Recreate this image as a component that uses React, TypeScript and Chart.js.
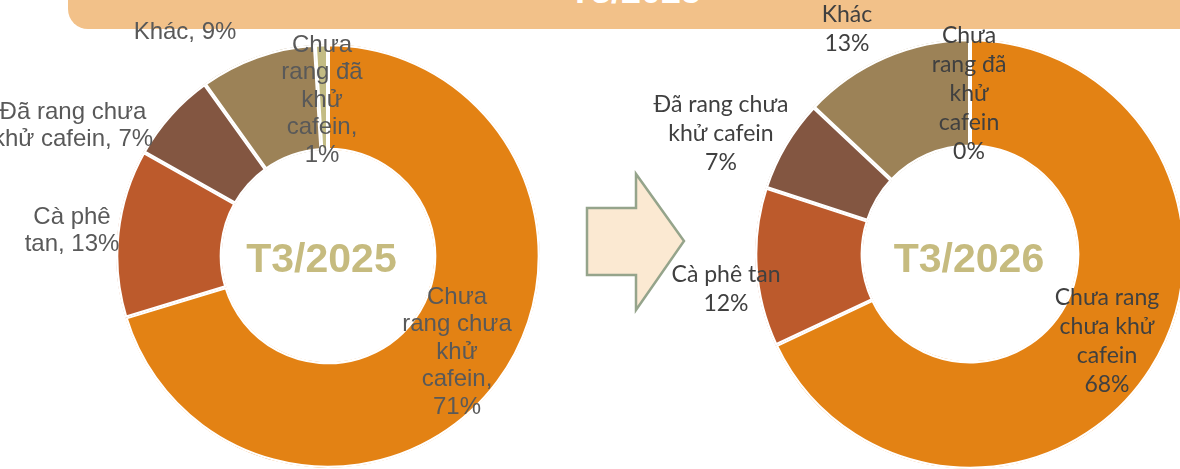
import React, { useEffect, useRef } from "react";
import { Chart, registerables } from "chart.js";

Chart.register(...registerables);

// ---------- DATA ----------
const categories = [
  "Chưa rang chưa khử cafein",
  "Cà phê tan",
  "Đã rang chưa khử cafein",
  "Khác",
  "Chưa rang đã khử cafein",
];
const periods = ["T3/2025", "T3/2026"];
const bannerTitle = "T3/2025";
const values2025 = [71, 13, 7, 9, 1];
const values2026 = [68, 12, 7, 13, 0];
const labels2025 = [
  "Chưa\nrang chưa\nkhử\ncafein,\n{v}%",
  "Cà phê\ntan, {v}%",
  "Đã rang chưa\nkhử cafein, {v}%",
  "Khác, {v}%",
  "Chưa\nrang đã\nkhử\ncafein,\n{v}%",
];
const labels2026 = [
  "Chưa rang\nchưa khử\ncafein\n{v}%",
  "Cà phê tan\n{v}%",
  "Đã rang chưa\nkhử cafein\n{v}%",
  "Khác\n{v}%",
  "Chưa\nrang đã\nkhử\ncafein\n{v}%",
];

// ---------- STYLE / LAYOUT ----------
const COLORS = ["#E38214", "#BC5A2C", "#835641", "#9C8257", "#C3BC84"];

const sliceLabelPlugin = {
  id: "sliceLabels",
  afterDatasetsDraw(chart: any, _args: any, opts: any) {
    const meta = chart.getDatasetMeta(0);
    const first = meta.data[0];
    if (!first) return;
    const cx = first.x;
    const cy = first.y;
    const ctx = chart.ctx;
    const values = chart.data.datasets[0].data as number[];
    ctx.save();
    ctx.textAlign = "center";
    ctx.textBaseline = "middle";
    ctx.fillStyle = opts.color;
    ctx.font = opts.font;
    opts.texts.forEach((tpl: string, i: number) => {
      const lines = tpl.replace("{v}", String(values[i])).split("\n");
      const [dx, dy] = opts.offsets[i];
      lines.forEach((ln: string, j: number) => {
        ctx.fillText(ln, cx + dx, cy + dy + (j - (lines.length - 1) / 2) * opts.lineHeight);
      });
    });
    ctx.textBaseline = "alphabetic";
    ctx.font = opts.centerFont;
    ctx.fillStyle = opts.centerColor;
    ctx.fillText(opts.center, cx + opts.centerOffset[0], cy + opts.centerOffset[1]);
    ctx.restore();
  },
};

function Donut(props: {
  values: number[];
  texts: string[];
  center: string;
  left: number;
  width: number;
  height: number;
  radius: number;
  cutout: string;
  font: string;
  color: string;
  lineHeight: number;
  offsets: number[][];
  centerOffset: number[];
}) {
  const ref = useRef<HTMLCanvasElement | null>(null);
  useEffect(() => {
    if (!ref.current) return;
    const chart = new Chart(ref.current, {
      type: "doughnut",
      data: {
        labels: categories,
        datasets: [
          {
            data: props.values,
            backgroundColor: COLORS,
            borderColor: "#FFFFFF",
            borderWidth: 2,
            borderAlign: "inner",
          } as any,
        ],
      },
      options: {
        responsive: false,
        animation: false,
        radius: props.radius,
        cutout: props.cutout,
        rotation: 0,
        layout: { padding: 0 },
        plugins: {
          legend: { display: false },
          tooltip: { enabled: false },
          sliceLabels: {
            texts: props.texts,
            offsets: props.offsets,
            font: props.font,
            color: props.color,
            lineHeight: props.lineHeight,
            center: props.center,
            centerFont: "bold 41px 'Liberation Sans', Arial, sans-serif",
            centerColor: "#C6BB7F",
            centerOffset: props.centerOffset,
          },
        } as any,
      },
      plugins: [sliceLabelPlugin],
    });
    return () => chart.destroy();
  }, []);
  return (
    <canvas
      ref={ref}
      width={props.width}
      height={props.height}
      style={{ position: "absolute", left: props.left, top: 0, width: props.width, height: props.height }}
    />
  );
}

export default function App() {
  return (
    <div
      style={{
        position: "fixed",
        left: 0,
        top: 0,
        width: 1180,
        height: 469,
        overflow: "hidden",
        background: "#FFFFFF",
      }}
    >
      <div
        style={{
          position: "absolute",
          left: 68,
          top: -40,
          width: 1200,
          height: 69,
          background: "#F2C189",
          borderBottomLeftRadius: 20,
        }}
      >
        <span
          style={{
            position: "absolute",
            left: 0,
            width: 1134,
            top: 13,
            textAlign: "center",
            color: "#FFFFFF",
            font: "bold 36px 'Liberation Sans', Arial, sans-serif",
            lineHeight: "36px",
            whiteSpace: "nowrap",
          }}
        >
          {bannerTitle}
        </span>
      </div>
      <svg
        width={1180}
        height={469}
        style={{ position: "absolute", left: 0, top: 0 }}
      >
        <polygon
          points="587,208 636,208 636,174 684,241 636,310 636,275 587,275"
          fill="#FBE9D2"
          stroke="#95A48B"
          strokeWidth={2.5}
        />
      </svg>
      <Donut
        values={values2025}
        texts={labels2025}
        center={periods[0]}
        left={0}
        width={656}
        height={512}
        radius={212}
        cutout="50%"
        font="24px 'Liberation Sans', Arial, sans-serif"
        color="#595959"
        lineHeight={27.5}
        offsets={[
          [129, 96],
          [-256, -25],
          [-255, -130],
          [-143, -224],
          [-6, -156],
        ]}
        centerOffset={[-6.5, 15.5]}
      />
      <Donut
        values={values2026}
        texts={labels2026}
        center={periods[1]}
        left={560}
        width={820}
        height={508}
        radius={215}
        cutout="49.8%"
        font="23px Lato, 'Open Sans', sans-serif"
        color="#404040"
        lineHeight={29}
        offsets={[
          [137, 87.5],
          [-244, 35],
          [-249, -120],
          [-123, -224.5],
          [-1, -160.5],
        ]}
        centerOffset={[-1, 17.5]}
      />
    </div>
  );
}
